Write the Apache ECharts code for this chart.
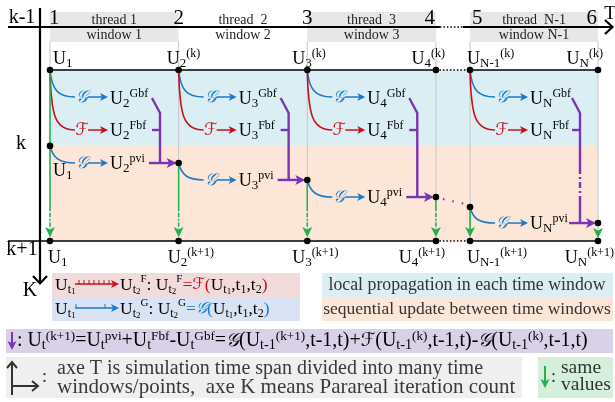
<!DOCTYPE html>
<html><head><meta charset="utf-8">
<script src="https://cdn.jsdelivr.net/npm/echarts@6/dist/echarts.min.js"></script>
<style>html,body{margin:0;padding:0;background:#fff}#c{width:615px;height:402px}</style>
</head><body><div id="c"></div>
<script>
// ---------------- data ----------------
const timeTicks = ['1', '2', '3', '4', '5', '6'];
const timePos = [1, 2, 3, 4, 4.265, 5.26];
const levelNames = ['k-1', 'k', 'k+1'];
const pviLevel = [0.444, 0.544, 0.643, 0.743, 0.801, 0.895];
const bandSplit = 0.444;
const pointSub = ['1', '2', '3', '4', 'N-1', 'N'];
const topSup = ['', '(k)', '(k)', '(k)', '(k)', '(k)'];
const bottomSup = ['', '(k+1)', '(k+1)', '(k+1)', '(k+1)', '(k+1)'];
const windowSpan = [[0, 1], [1, 2], [2, 3], [4, 5]];
const threadNames = ['thread 1', 'thread  2', 'thread  3', 'thread  N-1'];
const windowNames = ['window 1', 'window 2', 'window 3', 'window N-1'];
const windowShaded = [true, false, true, true];
const bandNames = ['local propagation in each time window', 'sequential update between time windows'];

// ---------------- layout / style ----------------
const SERIF = "'Liberation Serif','DejaVu Serif',serif";
const SCRIPT = "'DejaVu Serif','DejaVu Sans','Liberation Serif',serif";
const BLUE = '#1a7acb', RED = '#c8101a', PURPLE = '#7b34b3', GREEN = '#1fb24b';
const BAND_BLUE = '#dbeef3', BAND_ORANGE = '#fce6d8';
const tickLayout = [['left', -1], ['center', 0], ['center', 0], ['right', -1], ['left', 2], ['right', -1]];
const topLabelLayout = [['left', 3], ['left', -12], ['left', -15], ['right', 9], ['left', -3], ['right', 5]];
const bottomLabelLayout = [['left', -2], ['left', -11], ['left', -15], ['right', 9], ['left', -3], ['right', 16]];
const greenMode = ['skip', 'skip', 'skip', 'skip', 'solid', 'head'];
const windowEllipsis = [false, false, false, true];

const RICH = {
  m: { fontFamily: SERIF, fontSize: 18, lineHeight: 22 },
  s: { fontFamily: SERIF, fontSize: 13, lineHeight: 12, verticalAlign: 'bottom' },
  p: { fontFamily: SERIF, fontSize: 12, lineHeight: 12, verticalAlign: 'top' }
};
const U = (sub, sup) => '{m|U}{s|' + sub + '}' + (sup ? '{p|' + sup + '}' : '');

// ---------------- element helpers ----------------
function T(text, x, y, o) {
  o = o || {};
  const st = { text, x, y, align: o.align || 'left', verticalAlign: o.va || 'middle',
    fontSize: o.size || 18, fontFamily: o.family || SERIF, fill: o.color || '#000' };
  if (o.rich) st.rich = o.rich;
  if (o.italic) st.fontStyle = 'italic';
  return { type: 'text', style: st };
}
function L(x1, y1, x2, y2, color, w, dash) {
  const st = { stroke: color, lineWidth: w || 1 };
  if (dash) st.lineDash = dash;
  return { type: 'line', shape: { x1, y1, x2, y2 }, style: st };
}
function PL(points, color, w, dash) {
  const st = { stroke: color, fill: null, lineWidth: w || 1 };
  if (dash) st.lineDash = dash;
  return { type: 'polyline', shape: { points }, style: st };
}
function PG(points, color) { return { type: 'polygon', shape: { points }, style: { fill: color } }; }
function C(cx, cy, r, color) { return { type: 'circle', shape: { cx, cy, r }, style: { fill: color } }; }
function R(x, y, w, h, color) { return { type: 'rect', shape: { x, y, width: w, height: h }, style: { fill: color } }; }
function BZ(x1, y1, c1x, c1y, c2x, c2y, x2, y2, color, w) {
  return { type: 'bezierCurve', shape: { x1, y1, x2, y2, cpx1: c1x, cpy1: c1y, cpx2: c2x, cpy2: c2y },
    style: { stroke: color, fill: null, lineWidth: w || 1.5 } };
}
const headR = (x, y, len, half, color) => PG([[x, y], [x - len, y - half], [x - len * 0.75, y], [x - len, y + half]], color);
const headD = (x, y, len, half, color) => PG([[x, y], [x - half, y - len], [x, y - len * 0.75], [x + half, y - len]], color);
function arrowH(xa, xb, y, color, w) { return [L(xa, y, xb - 4, y, color, w || 1.5), headR(xb, y, 8, 4, color)]; }

// ---------------- renderers ----------------
function geo(api) {
  const xs = timePos.map(t => api.coord([t, 0])[0]);
  const yT = api.coord([timePos[0], 0])[1];
  const yB = api.coord([timePos[0], 1])[1];
  const yP = pviLevel.map((v, i) => api.coord([timePos[i], v])[1]);
  return { xs, yT, yB, yP };
}
function gapPairs() {
  const out = [];
  for (let i = 0; i < timePos.length - 1; i++) {
    if (!windowSpan.some(w => w[0] === i)) out.push(i);
  }
  return out;
}

function renderBands(params, api) {
  const i = params.dataIndex;
  const lo = i === 0 ? 0 : bandSplit, hi = i === 0 ? bandSplit : 1;
  const a = api.coord([timePos[0], lo]), b = api.coord([timePos[timePos.length - 1], hi]);
  return R(a[0], a[1], b[0] - a[0], b[1] - a[1], i === 0 ? BAND_BLUE : BAND_ORANGE);
}

function renderHeader(params, api) {
  const k = params.dataIndex;
  const g = geo(api);
  const x0 = g.xs[windowSpan[k][0]], x1 = g.xs[windowSpan[k][1]];
  const els = [];
  if (windowShaded[k]) els.push(R(x0, g.yT - 58, x1 - x0, 30, '#e7e7e7'));
  els.push(T(threadNames[k], (x0 + x1) / 2, g.yT - 50, { align: 'center', size: 14, color: '#222' }));
  els.push(T(windowNames[k], (x0 + x1) / 2, g.yT - 35, { align: 'center', size: 14, color: '#222' }));
  return { type: 'group', children: els };
}

function renderFrame(params, api) {
  const g = geo(api), xs = g.xs, yT = g.yT, yB = g.yB;
  const axisY = yT - 43, axisX = xs[0] - 10;
  const els = [];
  const gaps = gapPairs();
  // gray verticals
  xs.forEach(x => els.push(L(x, yT - 28, x, yB, '#c6c6c6', 1)));
  // rows (k-1 and k+1) with dotted gaps
  [[xs[0], yT], [8, yB]].forEach(([start, y]) => {
    let cur = start;
    gaps.forEach(i => {
      els.push(L(cur, y, xs[i], y, '#000', 1.6));
      els.push(L(xs[i], y, xs[i + 1], y, '#000', 1.4, [1.5, 2]));
      cur = xs[i + 1];
    });
    els.push(L(cur, y, xs[xs.length - 1], y, '#000', 1.6));
  });
  // T axis
  let cur = 8;
  gaps.forEach(i => {
    els.push(L(cur, axisY, xs[i] + 4, axisY, '#000', 2.2));
    els.push(L(xs[i] + 4, axisY, xs[i + 1] - 7, axisY, '#000', 1.5, [1.5, 2]));
    cur = xs[i + 1] - 7;
  });
  els.push(L(cur, axisY, 612, axisY, '#000', 2.2));
  els.push(PL([[605, axisY - 7], [612.5, axisY], [605, axisY + 7]], '#000', 2.2));
  els.push(T('T', 610, axisY - 13, { align: 'center', size: 19 }));
  // K axis
  els.push(L(axisX, 8, axisX, 283, '#000', 2.2));
  els.push(PL([[axisX - 7, 276], [axisX, 283.5], [axisX + 7, 276]], '#000', 2.2));
  els.push(T('K', axisX - 10, 291, { align: 'center', size: 20 }));
  // level labels
  els.push(T(levelNames[0], 22, axisY - 9, { align: 'center', size: 20 }));
  els.push(T(levelNames[1], 21, g.yP[0] - 2, { align: 'center', size: 20 }));
  els.push(T(levelNames[2], 22, yB + 9, { align: 'center', size: 20 }));
  // tick numbers
  timeTicks.forEach((t, i) => {
    els.push(T(t, xs[i] + tickLayout[i][1], axisY - 9, { align: tickLayout[i][0], size: 21 }));
  });
  // purple dotted continuation across gaps
  gaps.forEach(i => {
    els.push(L(xs[i] + 7, g.yP[i] + 2, xs[i + 1] - 5, g.yP[i + 1] - 3, PURPLE, 2, [1.6, 8]));
  });
  return { type: 'group', children: els };
}

function renderWindow(params, api) {
  const k = params.dataIndex;
  const g = geo(api);
  const i0 = windowSpan[k][0], i1 = windowSpan[k][1];
  const x0 = g.xs[i0], x1 = g.xs[i1], yT = g.yT;
  const yA = g.yP[i0], yB = g.yP[i1];
  const yG = yT + 27, yF = yT + 60;
  const sub = pointSub[i1];
  const els = [];
  // curves from the start point
  els.push(BZ(x0, yT, x0 + 2, yT + 20, x0 + 8, yG, x0 + 25, yG, BLUE, 1.6));
  els.push(BZ(x0, yT, x0 + 1, yF - 14, x0 + 5, yF, x0 + 25, yF, RED, 1.6));
  els.push(BZ(x0, yA, x0 + 3, yA + 12, x0 + 9, yB, x0 + 25, yB, BLUE, 1.6));
  // operators
  els.push(T('\uD835\uDCA2', x0 + 32, yG + 1, { align: 'center', size: 17, family: SCRIPT, color: BLUE, italic: true }));
  els.push(T('\u2131', x0 + 32, yF + 1, { align: 'center', size: 17, family: SCRIPT, color: RED, italic: true }));
  els.push(T('\uD835\uDCA2', x0 + 32, yB + 1, { align: 'center', size: 17, family: SCRIPT, color: BLUE, italic: true }));
  els.push(...arrowH(x0 + 38, x0 + 58, yG, BLUE));
  els.push(...arrowH(x0 + 38, x0 + 58, yF, RED));
  els.push(...arrowH(x0 + 38, x0 + 58, yB, BLUE));
  // labels
  els.push(T(U(sub, 'Gbf'), x0 + 60, yG + 2, { rich: RICH }));
  els.push(T(U(sub, 'Fbf'), x0 + 60, yF + 1, { rich: RICH }));
  els.push(T(U(sub, 'pvi'), x0 + 60, yB + 1, { rich: RICH }));
  // purple correction bracket
  const xv = x0 + 110;
  els.push(PL([[x0 + 102, yG + 1], [xv, yG + 16], [xv, windowEllipsis[k] ? yT + 98 : yB]], PURPLE, 2.4));
  if (windowEllipsis[k]) {
    els.push(L(xv, yT + 98, xv, yT + 126, PURPLE, 2.4, [6, 3, 2, 3]));
    els.push(L(xv, yT + 126, xv, yB, PURPLE, 2.4));
  }
  els.push(L(x0 + 102, yF, xv, yF, PURPLE, 2.4));
  els.push(L(x0 + 99, yB, x1 - 8, yB, PURPLE, 2.4));
  els.push(headR(x1 - 2, yB, 10, 5, PURPLE));
  return { type: 'group', children: els };
}

function renderColumn(params, api) {
  const i = params.dataIndex;
  const g = geo(api);
  const x = g.xs[i], yT = g.yT, yB = g.yB, yP = g.yP[i];
  const els = [];
  if (i === 0) els.push(L(x, yT, x, yP, GREEN, 1.5));
  if (greenMode[i] === 'skip') {
    els.push(L(x, yP, x, yB - 30, GREEN, 1.5));
    els.push(L(x, yB - 28, x, yB - 13, GREEN, 1.5, [4, 2, 1.5, 2]));
    els.push(headD(x, yB - 4, 10, 5, GREEN));
  } else if (greenMode[i] === 'solid') {
    els.push(L(x, yP, x, yB - 10, GREEN, 1.6));
    els.push(headD(x, yB - 4, 10, 5, GREEN));
  } else {
    els.push(headD(x, yB - 3, 10, 5, GREEN));
  }
  els.push(C(x, yT, 3.3, '#000'));
  els.push(C(x, yB, 3.3, '#000'));
  els.push(C(x, yP, 3.3, '#000'));
  // labels
  els.push(T(U(pointSub[i], topSup[i]), x + topLabelLayout[i][1], yT - 11, { align: topLabelLayout[i][0], rich: RICH }));
  els.push(T(U(pointSub[i], bottomSup[i]), x + bottomLabelLayout[i][1], yB + 17, { align: bottomLabelLayout[i][0], rich: RICH }));
  if (i === 0) els.push(T(U(pointSub[i], ''), x + 3, yP + 25, { rich: RICH }));
  return { type: 'group', children: els };
}

// ---------------- legend / notes (graphic) ----------------
const LR = {
  m: { fontFamily: SERIF, fontSize: 17.5, lineHeight: 22 },
  s: { fontFamily: SERIF, fontSize: 12, lineHeight: 12, verticalAlign: 'bottom' },
  ss: { fontFamily: SERIF, fontSize: 9, lineHeight: 6, verticalAlign: 'bottom' },
  p: { fontFamily: SERIF, fontSize: 11, lineHeight: 12, verticalAlign: 'top' },
  r: { fontFamily: SERIF, fontSize: 17.5, lineHeight: 22, fill: RED },
  b: { fontFamily: SERIF, fontSize: 17.5, lineHeight: 22, fill: BLUE },
  rs: { fontFamily: SCRIPT, fontSize: 16, lineHeight: 22, fill: RED, fontStyle: 'italic' },
  bs: { fontFamily: SCRIPT, fontSize: 16, lineHeight: 22, fill: BLUE, fontStyle: 'italic' }
};
const Ut = d => '{m|U}{s|t}{ss|' + d + '}';
const lg = [];
lg.push(R(52, 273, 248, 24, '#f2dcdb'));
lg.push(R(52, 297, 248, 24, '#dae3f3'));
lg.push(R(322, 273, 291, 24, BAND_BLUE));
lg.push(R(322, 297, 291, 24, BAND_ORANGE));
lg.push(R(6, 329, 607, 24, '#d9d1e7'));
lg.push(R(6, 357, 516, 41, '#efefef'));
lg.push(R(538, 357, 75, 41, '#d4efdc'));
// F legend
lg.push(T(Ut('1'), 55, 285, { rich: LR }));
lg.push(L(75, 284, 113, 284, RED, 1.5));
for (let x = 79; x <= 109; x += 5) lg.push(L(x, 280, x, 284, RED, 1));
lg.push(headR(119, 284, 8, 4, RED));
lg.push(T(Ut('2') + '{p|F}{m|: }' + Ut('2') + '{p|F}{r|=}{rs|\u2131}{r|(}' + Ut('1') + '{m|,t}{s|1}{m|,t}{s|2}{r|)}', 120, 285, { rich: LR }));
// G legend
lg.push(T(Ut('1'), 55, 309, { rich: LR }));
lg.push(L(75, 308, 113, 308, BLUE, 1.5));
lg.push(L(76, 304, 76, 308, BLUE, 1));
lg.push(L(105, 304, 105, 308, BLUE, 1));
lg.push(headR(119, 308, 8, 4, BLUE));
lg.push(T(Ut('2') + '{p|G}{m|: }' + Ut('2') + '{p|G}{b|=}{bs|\uD835\uDCA2}{b|(}' + Ut('1') + '{m|,t}{s|1}{m|,t}{s|2}{b|)}', 120, 309, { rich: LR }));
// band legends
lg.push(T(bandNames[0], 467, 285, { align: 'center', size: 17.8, color: '#333' }));
lg.push(T(bandNames[1], 467, 309, { align: 'center', size: 17.5, color: '#333' }));
// formula
const FR = {
  m: { fontFamily: SERIF, fontSize: 19.9, lineHeight: 22 },
  s: { fontFamily: SERIF, fontSize: 14.2, lineHeight: 12, verticalAlign: 'bottom' },
  p: { fontFamily: SERIF, fontSize: 13.2, lineHeight: 12, verticalAlign: 'top' },
  g: { fontFamily: SCRIPT, fontSize: 18.7, lineHeight: 22, fontStyle: 'italic' }
};
const Uf = (sub, sup) => '{m|U}{s|' + sub + '}{p|' + sup + '}';
lg.push(L(12, 332, 12, 344, PURPLE, 2));
lg.push(headD(12, 350, 9, 4.5, PURPLE));
const formula = '{m|: }' + Uf('t', '(k+1)') + '{m|=}' + Uf('t', 'pvi') + '{m|+}' + Uf('t', 'Fbf') + '{m|-}' + Uf('t', 'Gbf') +
  '{m|=}{g|\uD835\uDCA2}{m|(}' + Uf('t-1', '(k+1)') + '{m|,t-1,t)+}{g|\u2131}{m|(}' + Uf('t-1', '(k)') +
  '{m|,t-1,t)-}{g|\uD835\uDCA2}{m|(}' + Uf('t-1', '(k)') + '{m|,t-1,t)}';
lg.push(T(formula, 17, 341, { rich: FR }));
// axes note
lg.push(L(12, 395, 12, 363, '#333', 2));
lg.push(PL([[7, 368], [12, 362], [17, 368]], '#333', 2));
lg.push(L(12, 386, 37, 386, '#333', 2));
lg.push(PL([[32, 381], [38, 386], [32, 391]], '#333', 2));
lg.push(T(':', 42, 377, { size: 18, color: '#333' }));
lg.push(T('axe T is simulation time span divided into many time', 57, 369, { size: 20, color: '#3a3a3a' }));
lg.push(T('windows/points,  axe K means Parareal iteration count', 57, 387, { size: 21, color: '#3a3a3a' }));
// same values note
lg.push(L(545, 366, 545, 381, GREEN, 2));
lg.push(headD(545, 388, 9, 4.5, GREEN));
lg.push(T(':', 551, 377, { size: 18, color: '#333' }));
lg.push(T('same', 561, 368, { size: 19.5, color: '#333' }));
lg.push(T('values', 561, 385, { size: 19.5, color: '#333' }));

// ---------------- chart ----------------
const chart = echarts.init(document.getElementById('c'), null, { renderer: 'canvas' });
const common = { type: 'custom', coordinateSystem: 'cartesian2d', clip: false, silent: true };
chart.setOption({
  animation: false,
  grid: { left: 50, right: 17, top: 70, bottom: 161 },
  xAxis: { type: 'value', min: timePos[0], max: timePos[timePos.length - 1], show: false },
  yAxis: { type: 'value', min: 0, max: 1, inverse: true, show: false },
  series: [
    Object.assign({}, common, { name: 'bands', renderItem: renderBands, data: bandNames.map((n, i) => [timePos[0], i ? bandSplit : 0]), z: 1 }),
    Object.assign({}, common, { name: 'header', renderItem: renderHeader, data: windowSpan.map(w => [timePos[w[0]], 0]), z: 2 }),
    Object.assign({}, common, { name: 'frame', renderItem: renderFrame, data: [[timePos[0], 0]], z: 3 }),
    Object.assign({}, common, { name: 'windows', renderItem: renderWindow, data: windowSpan.map(w => [timePos[w[0]], 0]), z: 4 }),
    Object.assign({}, common, { name: 'columns', renderItem: renderColumn, data: timePos.map((t, i) => [t, pviLevel[i]]), z: 5 })
  ],
  graphic: [{ type: 'group', silent: true, children: lg }]
});
</script>
</body></html>
